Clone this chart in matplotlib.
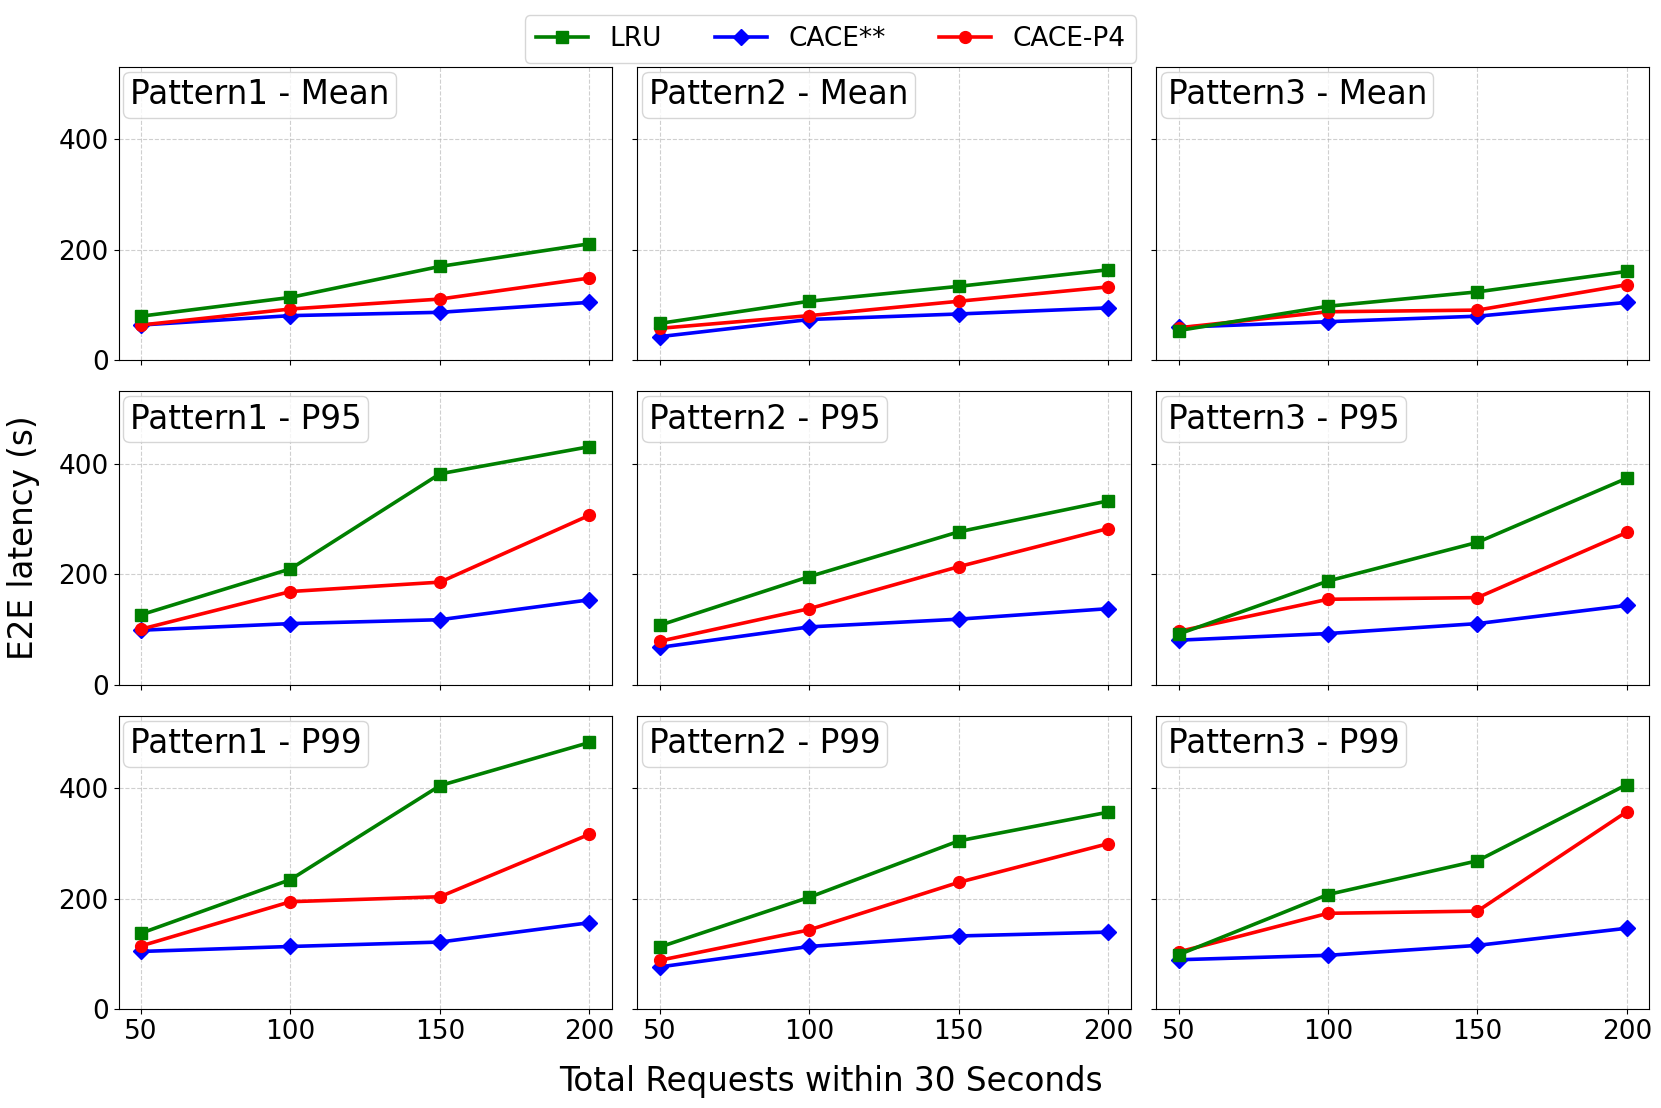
import matplotlib
matplotlib.use('Agg')
import matplotlib.pyplot as plt
from matplotlib.lines import Line2D

# x values
requests = [50, 100, 150, 200]
patterns = ['Pattern1', 'Pattern2', 'Pattern3']
metrics = ['Mean', 'P95', 'P99']

# values per metric, one row per pattern
lru_mean = [[80, 114, 170, 211], [67, 107, 134, 164], [54, 98, 124, 161]]
cace_mean = [[64, 81, 87, 105], [43, 74, 84, 95], [60, 70, 80, 105]]
p4_mean = [[64, 93, 111, 149], [58, 81, 107, 133], [59, 88, 91, 137]]

lru_p95 = [[127, 210, 382, 431], [108, 196, 277, 333], [92, 188, 258, 374]]
cace_p95 = [[99, 111, 118, 154], [68, 105, 119, 138], [81, 93, 111, 144]]
p4_p95 = [[101, 169, 186, 307], [79, 138, 214, 283], [97, 155, 158, 276]]

lru_p99 = [[138, 235, 405, 483], [113, 203, 305, 357], [99, 208, 269, 407]]
cace_p99 = [[105, 114, 122, 157], [77, 114, 133, 140], [90, 98, 116, 147]]
p4_p99 = [[115, 195, 204, 317], [89, 144, 230, 300], [104, 174, 178, 358]]

lru_all = [lru_mean, lru_p95, lru_p99]
cace_all = [cace_mean, cace_p95, cace_p99]
p4_all = [p4_mean, p4_p95, p4_p99]

ymax = max(max(max(r) for r in m) for m in lru_all + cace_all + p4_all) * 1.1

fig, axes = plt.subplots(3, 3, figsize=(16.61, 11.08), dpi=100, sharex=True, sharey=True)
fig.subplots_adjust(left=0.0714, right=0.993, top=0.9398, bottom=0.0889,
                    wspace=0.0516, hspace=0.105)

lw = 2.6
ms = 8.5
for i, metric in enumerate(metrics):
    for j, pat in enumerate(patterns):
        ax = axes[i, j]
        ax.plot(requests, cace_all[i][j], color='blue', marker='D', lw=lw, ms=ms, zorder=2)
        ax.plot(requests, p4_all[i][j], color='red', marker='o', lw=lw, ms=ms, zorder=3)
        ax.plot(requests, lru_all[i][j], color='green', marker='s', lw=lw, ms=ms, zorder=4)
        ax.set_ylim(0, ymax)
        ax.set_xticks(requests)
        ax.set_yticks([0, 200, 400])
        ax.tick_params(labelsize=19)
        ax.grid(True, linestyle='--', linewidth=0.8, alpha=0.6)
        # panel label as a legend-style box
        ax.legend([Line2D([], [], alpha=0)], [f'{pat} - {metric}'], loc='upper left',
                  handlelength=0, handletextpad=0, fontsize=23.5,
                  borderaxespad=0.15, borderpad=0.2)

handles = [Line2D([], [], color='green', marker='s', lw=lw, ms=ms),
           Line2D([], [], color='blue', marker='D', lw=lw, ms=ms),
           Line2D([], [], color='red', marker='o', lw=lw, ms=ms)]
fig.legend(handles, ['LRU', 'CACE**', 'CACE-P4'], loc='upper center',
           bbox_to_anchor=(0.5, 0.998), ncol=3, fontsize=19)

fig.text(0.5, 0.024, 'Total Requests within 30 Seconds', ha='center', va='center', fontsize=23.5)
fig.text(0.014, 0.515, 'E2E latency (s)', ha='center', va='center', rotation=90, fontsize=23.5)

plt.savefig('out.png', dpi=100)
plt.close()
